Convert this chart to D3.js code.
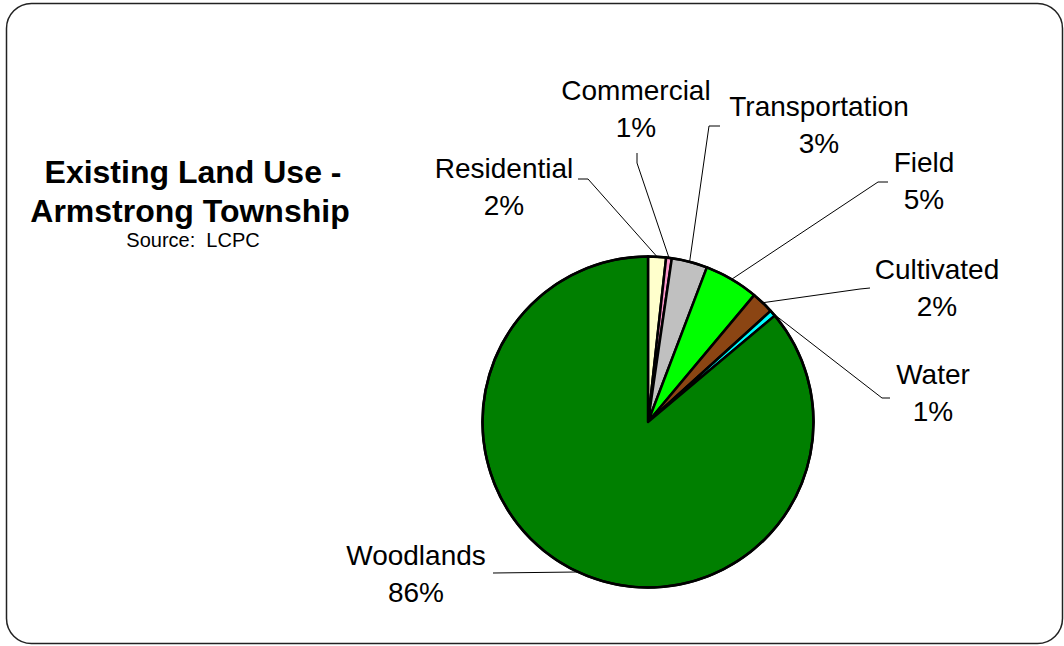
<!DOCTYPE html>
<html>
<head>
<meta charset="utf-8">
<script src="https://cdn.jsdelivr.net/npm/d3@7"></script>
<style>
  html, body { margin: 0; padding: 0; background: #fff; }
  svg { display: block; font-family: "Liberation Sans", Arial, Helvetica, sans-serif; }
</style>
</head>
<body>
<svg id="chart" width="1064" height="646"></svg>
<script>
// Land use shares (percent of township area), clockwise from 12 o'clock
const categories = ["Residential", "Commercial", "Transportation", "Field", "Cultivated", "Water", "Woodlands"];
const shares = [1.75, 0.55, 3.49, 5.3, 2.2, 0.6, 86.1];
const sliceColors = ["#FFFFCC", "#FF99CC", "#C0C0C0", "#00FF00", "#8B4513", "#00FFFF", "#007F00"];

// Label placement: text centre / baseline and the elbow of each leader line
const labelLayout = {
  Residential:    { x: 504, y: 178, elbow: [[578, 179], [588, 179]] },
  Commercial:     { x: 636, y: 100, elbow: [[637, 153], [637, 163]] },
  Transportation: { x: 819, y: 116, elbow: [[720, 126], [709, 126]] },
  Field:          { x: 924, y: 172, elbow: [[888, 182], [878, 182]] },
  Cultivated:     { x: 937, y: 279, elbow: [[870, 288], [860, 289]] },
  Water:          { x: 933, y: 384, elbow: [[890, 398], [882, 398]] },
  Woodlands:      { x: 416, y: 565, elbow: [[493, 573]] }
};

const svg = d3.select("#chart");

// Rounded frame
svg.append("rect")
  .attr("x", 6.5).attr("y", 3.5)
  .attr("width", 1056).attr("height", 640)
  .attr("rx", 25).attr("ry", 25)
  .attr("fill", "#fff")
  .attr("stroke", "#222").attr("stroke-width", 1.5);

// Title block
const title = svg.append("g").attr("text-anchor", "middle").attr("fill", "#000");
title.append("text").attr("x", 193).attr("y", 183)
  .attr("font-size", 32).attr("font-weight", "bold").text("Existing Land Use -");
title.append("text").attr("x", 190).attr("y", 222)
  .attr("font-size", 32).attr("font-weight", "bold").text("Armstrong Township");
title.append("text").attr("x", 193).attr("y", 247)
  .attr("font-size", 20).attr("xml:space", "preserve").style("white-space", "pre")
  .text("Source:  LCPC");

// Pie
const cx = 648, cy = 422, radius = 165.5;
const data = categories.map((c, i) => ({ name: c, value: shares[i], color: sliceColors[i] }));

const pie = d3.pie().sort(null).value(d => d.value)
  .startAngle(0).endAngle(2 * Math.PI);
const arcs = pie(data);

const arc = d3.arc().innerRadius(0).outerRadius(radius);

const g = svg.append("g").attr("transform", `translate(${cx},${cy})`);

g.selectAll("path.slice")
  .data(arcs)
  .join("path")
  .attr("class", "slice")
  .attr("d", arc)
  .attr("fill", d => d.data.color)
  .attr("stroke", "#000")
  .attr("stroke-width", 2.5)
  .attr("stroke-linejoin", "round");

// Outer rim
g.append("circle").attr("r", radius)
  .attr("fill", "none").attr("stroke", "#000").attr("stroke-width", 2.5);

// Point on the rim at a slice's mid-angle, in page coordinates
function rimPoint(d) {
  const a = (d.startAngle + d.endAngle) / 2;
  return [cx + radius * Math.sin(a), cy - radius * Math.cos(a)];
}

const line = d3.line();

// Leader lines
svg.append("g").selectAll("path.leader")
  .data(arcs)
  .join("path")
  .attr("class", "leader")
  .attr("d", d => line([...labelLayout[d.data.name].elbow, rimPoint(d)]))
  .attr("fill", "none")
  .attr("stroke", "#000")
  .attr("stroke-width", 1);

// Category and percentage labels
const pctFormat = v => Math.round(v) + "%";
const labels = svg.append("g").attr("text-anchor", "middle").attr("font-size", 28).attr("fill", "#000");
arcs.forEach(d => {
  const L = labelLayout[d.data.name];
  labels.append("text").attr("x", L.x).attr("y", L.y).text(d.data.name);
  labels.append("text").attr("x", L.x).attr("y", L.y + 37).text(pctFormat(d.data.value));
});
</script>
</body>
</html>
